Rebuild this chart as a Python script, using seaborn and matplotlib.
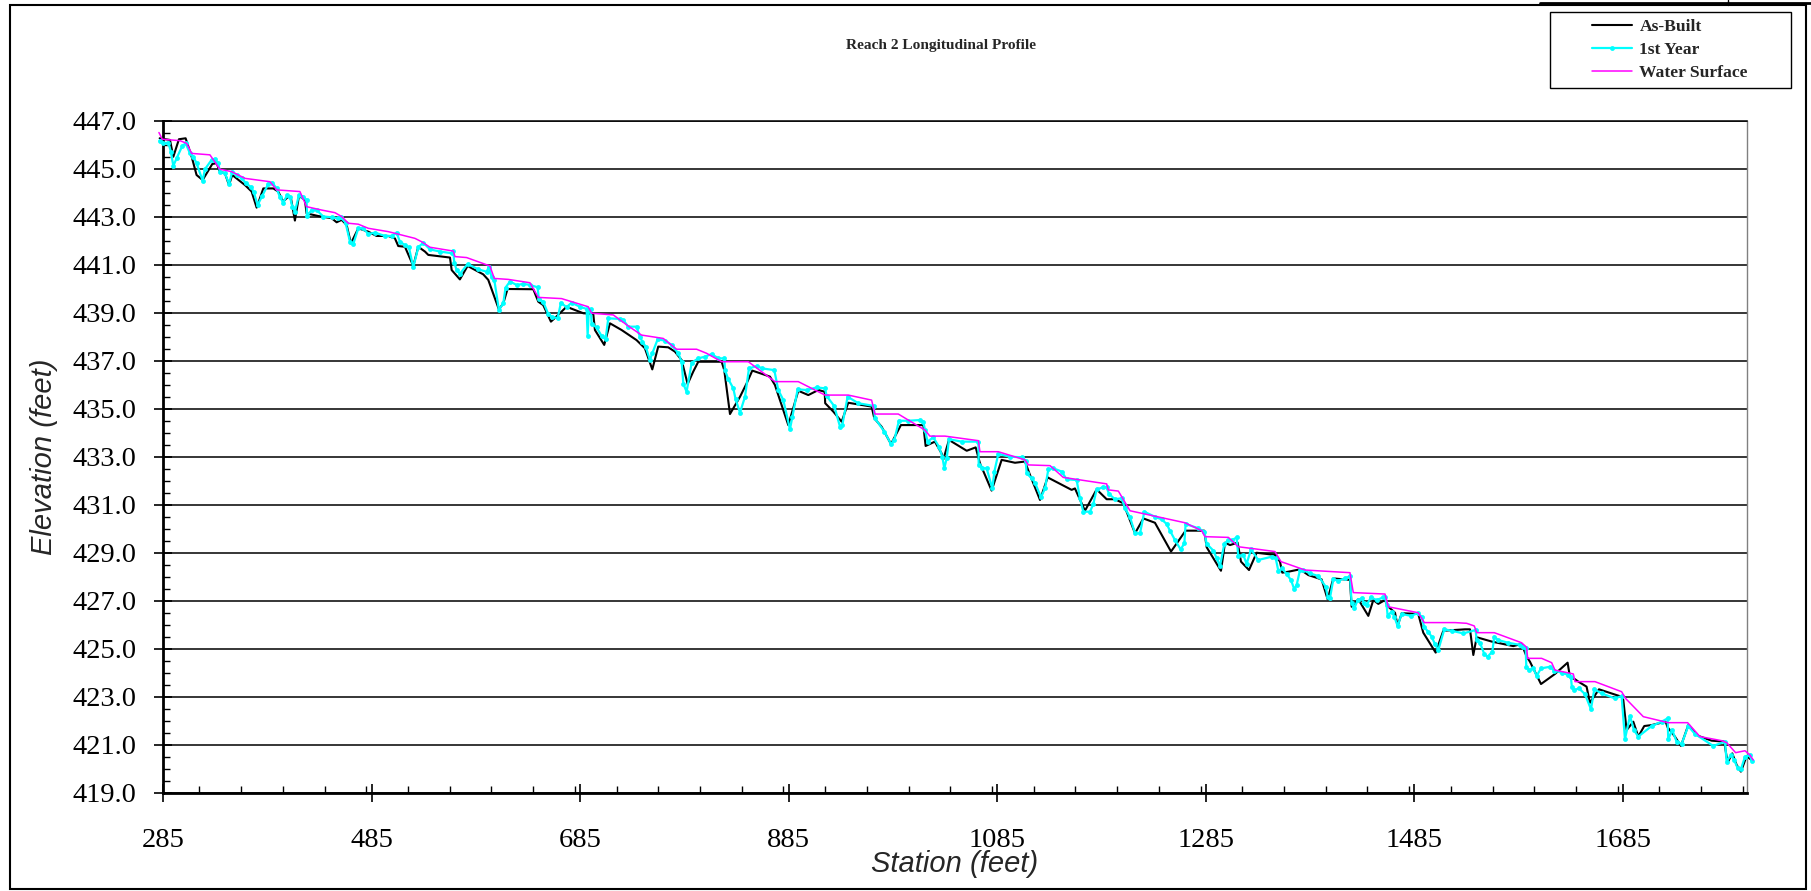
import pandas as pd
import matplotlib
matplotlib.use("Agg")
import matplotlib.pyplot as plt
import seaborn as sns
from matplotlib.ticker import MultipleLocator, FormatStrFormatter
from matplotlib.patches import Rectangle
from matplotlib.lines import Line2D

# ----------- Data -----------
asbuilt_station = [
    281.8, 291.7, 294.9, 300.3, 306.7, 308.3, 312.5, 317.2, 323.0, 332.3, 336.4, 339.6, 344.4, 348.3,
    351.4, 363.6, 370.0, 374.8, 381.2, 390.8, 395.5, 400.3, 405.1, 407.7, 411.5, 415.4, 421.1, 422.7,
    433.9, 446.7, 451.5, 456.3, 461.1, 465.2, 472.3, 481.8, 489.8, 501.0, 507.4, 510.6, 517.0, 525.0,
    529.8, 536.2, 539.4, 560.2, 561.8, 569.7, 577.1, 592.1, 596.9, 607.1, 611.3, 615.4, 640.1, 644.9,
    649.6, 657.0, 661.5, 672.0, 688.0, 697.6, 699.2, 708.1, 713.6, 724.8, 739.1, 747.1, 754.2, 759.9,
    769.5, 775.9, 782.3, 788.1, 793.5, 798.3, 820.7, 823.2, 828.7, 838.3, 844.7, 850.1, 867.0, 871.8,
    884.6, 894.2, 903.8, 913.4, 919.5, 920.0, 927.8, 935.8, 942.1, 964.5, 967.1, 974.1, 983.1, 992.6,
    1014.1, 1016.3, 1025.2, 1031.6, 1033.3, 1038.7, 1055.7, 1064.3, 1068.4, 1079.6, 1089.2, 1102.0,
    1111.6, 1116.4, 1126.0, 1133.3, 1156.3, 1159.5, 1169.1, 1180.3, 1189.9, 1197.9, 1205.9, 1217.1,
    1225.1, 1236.2, 1251.6, 1265.6, 1277.8, 1283.5, 1285.8, 1299.5, 1303.4, 1308.2, 1315.5, 1318.7,
    1326.4, 1333.7, 1351.3, 1356.1, 1358.3, 1364.1, 1375.3, 1383.3, 1396.0, 1401.8, 1407.2, 1423.2,
    1424.8, 1431.2, 1440.8, 1445.6, 1450.4, 1456.8, 1459.3, 1466.4, 1468.9, 1472.8, 1488.7, 1493.5,
    1505.4, 1512.7, 1533.5, 1538.3, 1541.5, 1544.7, 1559.1, 1579.8, 1587.8, 1592.6, 1595.8, 1606.4,
    1619.8, 1631.9, 1634.2, 1639.0, 1642.2, 1650.1, 1653.3, 1662.0, 1683.7, 1685.3, 1688.5, 1694.9,
    1699.7, 1705.4, 1712.5, 1725.9, 1727.8, 1734.8, 1740.6, 1747.6, 1757.2, 1770.0, 1782.1, 1785.3,
    1789.8, 1794.0, 1798.1, 1803.6, 1808.3,
]
asbuilt_elev = [
    446.28, 446.21, 445.51, 446.24, 446.28, 446.07, 445.51, 444.75, 444.54, 445.21, 445.24, 444.89, 444.82, 444.33,
    444.75, 444.33, 444.06, 443.39, 444.19, 444.19, 444.06, 443.64, 443.85, 443.78, 442.85, 443.88, 443.71, 443.15,
    443.04, 442.95, 442.78, 442.88, 442.67, 441.90, 442.53, 442.39, 442.21, 442.21, 442.11, 441.79, 441.76, 440.96,
    441.76, 441.56, 441.42, 441.31, 440.79, 440.40, 440.96, 440.61, 440.38, 439.15, 439.40, 440.00, 439.99, 439.47,
    439.33, 438.64, 438.82, 439.26, 438.99, 438.96, 438.29, 437.67, 438.57, 438.29, 437.87, 437.53, 436.65, 437.60,
    437.57, 437.39, 437.04, 436.04, 436.56, 436.97, 436.97, 436.62, 434.79, 435.51, 436.07, 436.60, 436.35, 436.00,
    434.33, 435.76, 435.58, 435.79, 435.72, 435.24, 434.89, 434.47, 435.26, 435.10, 434.61, 434.26, 433.54, 434.33,
    434.33, 433.46, 433.64, 433.15, 432.90, 433.71, 433.26, 433.40, 432.74, 431.60, 432.88, 432.76,
    432.81, 432.25, 431.21, 432.15, 431.63, 431.69, 430.76, 431.65, 431.24, 431.24, 431.07, 429.82,
    430.44, 430.26, 429.06, 429.93, 429.93, 429.93, 429.24, 428.26, 429.43, 429.33, 429.43, 428.64,
    428.29, 429.01, 428.92, 428.64, 428.18, 428.22, 428.32, 428.08, 427.90, 427.07, 427.94, 427.88,
    426.76, 427.07, 426.38, 427.04, 426.88, 427.04, 426.79, 426.51, 425.96, 426.49, 426.46, 425.68,
    424.85, 425.76, 425.82, 425.82, 424.75, 425.49, 425.31, 425.12, 425.21, 424.68, 424.47, 423.54,
    423.96, 424.43, 423.82, 423.74, 423.64, 423.43, 422.76, 423.32, 423.01, 422.88, 421.62, 421.97,
    421.35, 421.79, 421.83, 421.97, 421.74, 421.35, 420.96, 421.83, 421.38, 421.18, 421.14, 420.26,
    420.65, 420.17, 419.89, 420.54, 420.37,
]

year1_station = [
    281.8, 285.3, 290.1, 292.6, 294.9, 298.1, 303.5, 306.7, 310.9, 314.1, 317.2, 323.0, 325.2, 331.6,
    334.8, 338.0, 339.6, 344.4, 348.3, 351.4, 355.6, 360.4, 364.2, 369.3, 371.9, 375.7, 380.2, 386.0,
    389.8, 394.0, 397.2, 400.3, 404.2, 406.7, 409.0, 411.5, 415.4, 419.5, 422.7, 423.2, 427.5, 432.3,
    438.7, 446.7, 452.4, 455.3, 460.1, 464.3, 467.5, 472.3, 477.1, 481.8, 488.2, 497.8, 504.2, 509.0,
    512.2, 517.0, 520.8, 525.0, 529.8, 534.6, 541.0, 550.6, 561.8, 563.4, 564.3, 566.6, 569.7, 577.1,
    587.3, 595.3, 597.6, 600.1, 602.7, 607.1, 611.3, 613.5, 617.7, 624.1, 630.5, 636.9, 644.2, 645.5,
    649.6, 654.4, 657.6, 663.4, 666.6, 672.0, 676.8, 684.8, 691.2, 692.2, 693.4, 695.3, 696.0, 700.8,
    705.6, 709.4, 712.0, 723.2, 726.4, 731.1, 739.1, 742.3, 744.6, 747.8, 751.9, 754.2, 759.3, 766.3,
    772.7, 779.1, 782.3, 784.0, 787.1, 792.0, 798.3, 804.7, 811.1, 817.5, 823.3, 823.9, 827.1, 831.9,
    834.1, 838.3, 843.1, 846.9, 854.3, 859.7, 871.2, 875.0, 879.8, 886.2, 888.4, 893.6, 902.2, 911.8,
    919.8, 921.4, 928.7, 934.2, 936.4, 941.5, 951.7, 966.4, 967.7, 976.7, 983.1, 986.3, 990.7, 999.7,
    1010.9, 1014.1, 1015.7, 1018.2, 1023.6, 1029.1, 1032.3, 1034.2, 1036.5, 1038.7, 1050.9, 1066.9,
    1067.2, 1070.7, 1074.8, 1080.3, 1082.2, 1086.0, 1097.2, 1109.0, 1112.2, 1113.2, 1118.0, 1121.2,
    1126.9, 1130.8, 1134.0, 1138.8, 1146.8, 1151.5, 1161.1, 1164.3, 1167.5, 1173.9, 1177.1, 1180.3,
    1186.7, 1189.9, 1192.1, 1197.9, 1204.3, 1207.5, 1212.3, 1217.1, 1221.9, 1226.0, 1236.2, 1242.6,
    1247.4, 1250.6, 1255.4, 1260.8, 1264.4, 1265.6, 1277.8, 1283.5, 1285.8, 1292.2, 1295.4, 1298.6,
    1302.7, 1306.6, 1310.4, 1314.5, 1316.1, 1321.0, 1324.1, 1328.3, 1335.3, 1348.7, 1352.0, 1354.5,
    1358.3, 1362.5, 1366.6, 1369.8, 1372.1, 1375.3, 1378.5, 1384.9, 1392.9, 1399.9, 1401.8, 1404.0,
    1407.2, 1412.0, 1418.4, 1423.2, 1424.8, 1427.4, 1430.6, 1434.4, 1437.0, 1439.2, 1443.3, 1448.8,
    1455.2, 1456.8, 1458.4, 1459.3, 1463.2, 1465.7, 1468.9, 1472.8, 1481.7, 1488.1, 1491.9, 1494.5,
    1498.3, 1501.5, 1504.7, 1507.9, 1513.7, 1520.7, 1531.9, 1543.7, 1544.7, 1547.9, 1552.0, 1555.2,
    1559.7, 1561.6, 1565.4, 1575.0, 1586.2, 1589.4, 1591.7, 1592.3, 1594.9, 1599.0, 1602.2, 1606.4,
    1615.0, 1619.1, 1626.2, 1632.6, 1635.1, 1636.0, 1638.3, 1642.8, 1648.5, 1654.3, 1657.5, 1664.5,
    1677.3, 1683.7, 1686.9, 1691.7, 1695.5, 1699.7, 1712.5, 1722.0, 1727.8, 1728.4, 1732.3, 1736.4,
    1741.2, 1747.6, 1754.0, 1771.6, 1782.8, 1784.4, 1788.5, 1791.7, 1795.0, 1798.1, 1802.0, 1806.8,
    1808.3,
]
year1_elev = [
    446.18, 446.07, 446.10, 445.72, 445.13, 445.45, 445.96, 446.07, 445.65, 445.51, 445.24, 444.51, 444.99, 445.38,
    445.40, 445.24, 444.89, 444.82, 444.38, 444.89, 444.75, 444.61, 444.43, 444.24, 444.06, 443.50, 443.88, 444.38,
    444.43, 444.19, 443.82, 443.60, 443.92, 443.85, 443.43, 443.22, 443.92, 443.85, 443.71, 443.04, 443.29, 443.29,
    443.02, 442.99, 442.95, 442.99, 442.76, 441.97, 441.88, 442.53, 442.53, 442.29, 442.35, 442.21, 442.21, 442.35,
    441.97, 441.83, 441.74, 440.90, 441.74, 441.93, 441.65, 441.56, 441.49, 441.60, 441.10, 440.79, 440.63, 441.04,
    440.82, 440.72, 440.93, 440.49, 440.38, 439.13, 439.40, 440.06, 440.31, 440.17, 440.21, 440.17, 440.07, 439.57,
    439.47, 438.96, 438.85, 438.78, 439.43, 439.24, 439.43, 439.26, 439.17, 438.06, 439.13, 439.15, 438.54, 438.40,
    438.04, 437.90, 438.78, 438.75, 438.71, 438.43, 438.43, 438.01, 437.81, 437.60, 437.04, 437.32, 437.90, 437.85,
    437.67, 437.32, 436.97, 436.04, 435.72, 436.93, 437.11, 437.18, 437.29, 437.11, 437.11, 436.62, 436.24, 435.86,
    435.40, 434.85, 435.51, 436.69, 436.79, 436.69, 436.62, 435.79, 435.38, 434.15, 434.65, 435.82, 435.79, 435.90,
    435.86, 435.54, 435.12, 434.26, 434.33, 435.51, 435.24, 435.13, 434.61, 434.06, 433.54, 433.71, 434.51, 434.51,
    434.54, 434.47, 434.12, 433.64, 433.82, 433.43, 433.01, 432.53, 432.94, 433.74, 433.64, 433.64,
    432.67, 432.53, 432.53, 431.69, 432.39, 433.13, 433.01, 432.99, 432.85, 432.32, 432.11, 431.93,
    431.32, 431.69, 432.49, 432.53, 432.39, 432.07, 432.04, 431.28, 430.72, 430.72, 431.04, 431.65,
    431.74, 431.74, 431.46, 431.24, 431.28, 430.86, 430.49, 429.82, 429.82, 430.72, 430.51, 430.40,
    430.21, 429.93, 429.54, 429.15, 429.40, 430.21, 430.03, 429.89, 429.38, 429.10, 428.78, 428.46,
    429.38, 429.54, 429.54, 429.65, 428.88, 428.92, 428.54, 429.15, 428.71, 428.85, 428.78, 428.26,
    428.36, 428.12, 427.88, 427.49, 427.67, 428.29, 428.29, 428.15, 428.04, 427.60, 427.18, 427.11,
    427.90, 427.85, 427.94, 428.04, 426.90, 426.69, 427.04, 427.11, 426.90, 426.83, 427.15, 427.04,
    427.15, 427.18, 426.83, 426.38, 426.56, 426.35, 425.96, 426.46, 426.38, 426.49, 426.35, 425.90,
    425.72, 425.51, 425.21, 424.96, 425.82, 425.76, 425.65, 425.79, 425.37, 425.26, 424.79, 424.68,
    424.89, 425.51, 425.37, 425.26, 425.17, 425.10, 425.03, 424.26, 424.12, 424.19, 423.88, 424.19,
    424.26, 424.10, 424.01, 423.92, 423.82, 423.40, 423.29, 423.36, 423.12, 422.49, 423.32, 423.15,
    422.94, 423.04, 421.24, 422.21, 421.62, 421.35, 421.79, 421.97, 422.11, 421.24, 421.62, 421.14,
    421.04, 421.79, 421.46, 420.96, 421.14, 420.31, 420.58, 420.37, 420.03, 419.99, 420.51, 420.58,
    420.35,
]

water_station = [
    281.1, 284.3, 301.3, 307.7, 312.5, 330.0, 339.6, 350.8, 363.6, 387.6, 394.0, 416.3, 422.7, 437.1,
    449.9, 456.3, 462.7, 472.3, 481.8, 501.0, 526.6, 533.0, 541.0, 563.4, 565.0, 576.1, 598.5, 602.7,
    616.1, 636.9, 644.9, 667.2, 692.8, 696.0, 716.8, 731.1, 743.9, 764.7, 777.5, 785.5, 796.7, 806.3,
    820.7, 846.3, 871.8, 894.2, 919.8, 942.1, 964.5, 967.7, 990.1, 1015.7, 1020.4, 1034.8, 1066.9,
    1068.4, 1086.0, 1111.6, 1114.8, 1135.6, 1148.3, 1189.9, 1191.5, 1201.1, 1212.3, 1265.0, 1281.0,
    1284.2, 1306.6, 1316.1, 1329.0, 1351.3, 1357.1, 1380.1, 1423.2, 1426.4, 1456.8, 1460.0, 1488.7,
    1494.5, 1523.9, 1535.1, 1542.4, 1544.7, 1561.6, 1587.8, 1592.6, 1593.6, 1607.0, 1616.6, 1619.8,
    1637.4, 1639.0, 1658.1, 1683.7, 1687.5, 1704.5, 1728.4, 1747.0, 1758.8, 1779.6, 1784.4, 1793.0,
    1802.0, 1806.8, 1810.0,
]
water_elev = [
    446.52, 446.24, 446.18, 446.07, 445.65, 445.59, 444.99, 444.89, 444.61, 444.47, 444.13, 444.06, 443.43, 443.29,
    443.18, 443.02, 442.74, 442.70, 442.53, 442.39, 442.11, 441.97, 441.74, 441.58, 441.35, 441.31, 440.96, 440.44,
    440.40, 440.26, 439.65, 439.60, 439.26, 438.99, 438.92, 438.46, 438.08, 437.94, 437.49, 437.49, 437.49, 437.32,
    436.97, 436.97, 436.14, 436.14, 435.58, 435.58, 435.37, 434.79, 434.79, 434.12, 433.87, 433.87, 433.68,
    433.22, 433.22, 432.88, 432.67, 432.64, 432.15, 431.88, 431.63, 431.58, 430.76, 430.26, 429.93,
    429.68, 429.65, 429.26, 429.19, 429.06, 428.64, 428.29, 428.18, 427.35, 427.29, 426.76, 426.51,
    426.10, 426.10, 426.07, 425.96, 425.68, 425.68, 425.26, 425.07, 424.61, 424.61, 424.43, 424.12,
    423.96, 423.64, 423.64, 423.22, 422.94, 422.18, 421.93, 421.93, 421.35, 421.18, 421.10, 420.68,
    420.76, 420.58, 420.37,
]

x_ticks = [285, 485, 685, 885, 1085, 1285, 1485, 1685]
y_ticks = [419, 421, 423, 425, 427, 429, 431, 433, 435, 437, 439, 441, 443, 445, 447]
series_names = ["As-Built", "1st Year", "Water Surface"]
chart_title = "Reach 2 Longitudinal Profile"

asbuilt = pd.DataFrame({"station": asbuilt_station, "elev": asbuilt_elev})
year1 = pd.DataFrame({"station": year1_station, "elev": year1_elev})
water = pd.DataFrame({"station": water_station, "elev": water_elev})

# ----------- Figure -----------
sns.set_theme(style="white")
plt.rcParams["font.family"] = ["Liberation Serif", "DejaVu Serif"]

fig = plt.figure(figsize=(18.11, 8.91), dpi=100)
ax = fig.add_axes([0.0900, 0.1100, 0.8747, 0.7542])

sns.lineplot(data=asbuilt, x="station", y="elev", sort=False, estimator=None, ax=ax,
             color="black", lw=1.5, clip_on=False, zorder=3)
sns.lineplot(data=year1, x="station", y="elev", sort=False, estimator=None, ax=ax,
             color="#00FFFF", lw=1.6, marker="o", markersize=3.5, markeredgewidth=0,
             clip_on=False, zorder=4)
sns.lineplot(data=water, x="station", y="elev", sort=False, estimator=None, ax=ax,
             color="#FF00FF", lw=1.1, clip_on=False, zorder=5)

ax.set_xlim(285, 1804)
ax.set_ylim(419, 447)
ax.set_xticks(x_ticks)
ax.set_yticks(y_ticks)
ax.xaxis.set_minor_locator(MultipleLocator(40))
ax.yaxis.set_minor_locator(MultipleLocator(0.5))
ax.yaxis.set_major_formatter(FormatStrFormatter("%.1f"))
ax.set_xlabel("")
ax.set_ylabel("")

ax.yaxis.grid(True, which="major", color="black", lw=1.1)
ax.set_axisbelow(True)
for side in ["left", "bottom"]:
    ax.spines[side].set_color("black")
    ax.spines[side].set_linewidth(2)
ax.spines["top"].set_color("black")
ax.spines["top"].set_linewidth(1.1)
ax.spines["right"].set_color("#808080")
ax.spines["right"].set_linewidth(1)

ax.tick_params(axis="both", which="major", direction="inout", length=13, width=1.2,
               color="black", labelsize=20.5, labelcolor="black", bottom=True, left=True)
ax.tick_params(axis="y", which="major", pad=12.5)
ax.tick_params(axis="x", which="major", pad=19)
ax.tick_params(axis="both", which="minor", direction="in", length=5, width=1,
               color="black", bottom=True, left=True)

# axis titles, centred on the axes like the spreadsheet does
fig.text(44 / 1811, 0.1100 + 0.7542 / 2, "Elevation (feet)", rotation=90, ha="center", va="center",
         fontsize=21, style="italic", family=["Liberation Sans", "DejaVu Sans"])
fig.text(0.0900 + 0.8747 / 2, 1 - 864 / 891, "Station (feet)", ha="center", va="center",
         fontsize=21, style="italic", family=["Liberation Sans", "DejaVu Sans"])

fig.text(941 / 1811, 1 - 46 / 891, chart_title, ha="center", va="center",
         fontsize=11.1, fontweight="bold")

# legend box, drawn like the spreadsheet one
fig.patches.append(Rectangle((1550 / 1811, 1 - 88 / 891), 241 / 1811, 76 / 891,
                             transform=fig.transFigure, fill=False, ec="black", lw=1))
handles = [
    Line2D([], [], color="black", lw=1.5),
    Line2D([], [], color="#00FFFF", lw=1.6, marker="o", markersize=3.5, markeredgewidth=0),
    Line2D([], [], color="#FF00FF", lw=1.1),
]
fig.legend(handles, series_names, loc="center", bbox_to_anchor=(1670 / 1811, 1 - 50 / 891),
           frameon=False, prop={"family": "Liberation Serif", "weight": "bold", "size": 12.6},
           handlelength=2.3, handletextpad=0.4, labelspacing=0.4, borderpad=0)

# outer chart border and the clipped box edge at the top right
fig.patches.append(Rectangle((10 / 1811, 2 / 891), 1796 / 1811, 884 / 891,
                             transform=fig.transFigure, fill=False, ec="black", lw=1.5))
fig.lines.append(Line2D([1540 / 1811, 1], [1 - 3 / 891, 1 - 3 / 891],
                        transform=fig.transFigure, color="black", lw=2))
fig.lines.append(Line2D([1728 / 1811, 1728 / 1811], [1, 1 - 5 / 891],
                        transform=fig.transFigure, color="black", lw=1))

fig.savefig("out.png", dpi=100)
